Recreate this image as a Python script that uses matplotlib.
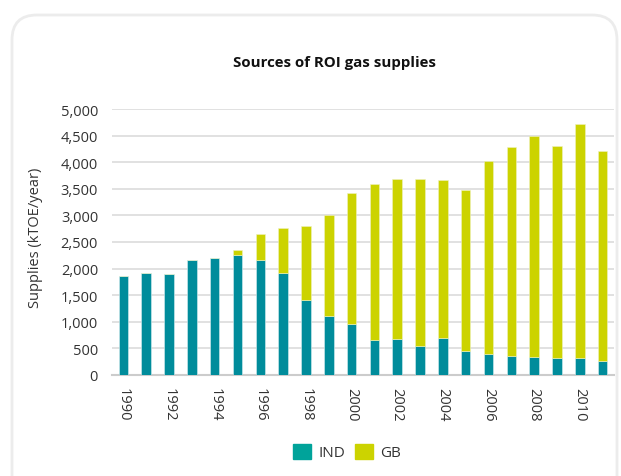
import matplotlib.pyplot as plt
import numpy as np
from matplotlib.patches import FancyBboxPatch, Patch

years = list(range(1990, 2012))
ind = [1867, 1924, 1898, 2162, 2199, 2262, 2168, 1911, 1410, 1109, 952,
       652, 683, 539, 695, 457, 395, 357, 338, 320, 320, 269]
total = [1867, 1924, 1898, 2162, 2199, 2343, 2657, 2769, 2807, 3008, 3430,
         3584, 3684, 3684, 3659, 3478, 4016, 4292, 4486, 4305, 4712, 4204]
gb = [t - i for t, i in zip(total, ind)]
tick_labels = [str(y) if y % 2 == 0 else "" for y in years]

plt.rcParams['font.family'] = ['Open Sans', 'DejaVu Sans']

fig = plt.figure(figsize=(6.21, 4.77), dpi=100)

# rounded card behind the chart
card = FancyBboxPatch((12 / 621, -0.2), (617 - 12) / 621, (477 - 16) / 477 + 0.2,
                      boxstyle="round,pad=0,rounding_size=0.04",
                      transform=fig.transFigure, facecolor="white",
                      edgecolor="#ececec", linewidth=2, mutation_aspect=621 / 477,
                      zorder=-5)
fig.patches.append(card)

ax = fig.add_axes([112 / 621, 101 / 477, (614 - 112) / 621, 266 / 477])
ax.set_facecolor("none")

x = np.arange(len(years))
teal = "#008c9b"
lime = "#ccd300"
ax.bar(x, ind, width=0.42, color=teal, edgecolor="#d8eef0", linewidth=0.4, zorder=3)
ax.bar(x, gb, bottom=ind, width=0.42, color=lime, edgecolor="#eef2c0", linewidth=0.4, zorder=3)

ax.set_xlim(-0.5, len(years) - 0.5)
ax.set_ylim(0, 5000)
ax.set_yticks(range(0, 5001, 500))
ax.set_yticklabels([f"{v:,}" for v in range(0, 5001, 500)])
ax.set_xticks(x)
ax.set_xticklabels(tick_labels, rotation=-90, va="top", ha="center")
ax.tick_params(length=0, labelsize=10.5, colors="#333333")
ax.tick_params(axis="x", pad=9)
ax.tick_params(axis="y", pad=10)

ax.grid(axis="y", color="#dcdcdc", linewidth=1.2, zorder=0)
for s in ["top", "right", "left"]:
    ax.spines[s].set_visible(False)
ax.spines["bottom"].set_color("#cccccc")
ax.spines["bottom"].set_linewidth(1.5)

fig.text(36 / 621, 1 - 238 / 477, "Supplies (kTOE/year)", rotation=90,
         ha="center", va="center", fontsize=10.5, color="#333333")

fig.text(335 / 621, 1 - 63 / 477, "Sources of ROI gas supplies", ha="center",
         va="center", fontsize=10.8, fontweight="bold", color="#111111")

handles = [Patch(color="#00a39a", label="IND"), Patch(color=lime, label="GB")]
fig.legend(handles=handles, loc="center", bbox_to_anchor=(347 / 621, 1 - 453 / 477),
           ncol=2, frameon=False, fontsize=11, handlelength=1.2, handleheight=1.2,
           columnspacing=0.6, handletextpad=0.5, labelcolor="#333333")

fig.savefig("out.png", dpi=100)
